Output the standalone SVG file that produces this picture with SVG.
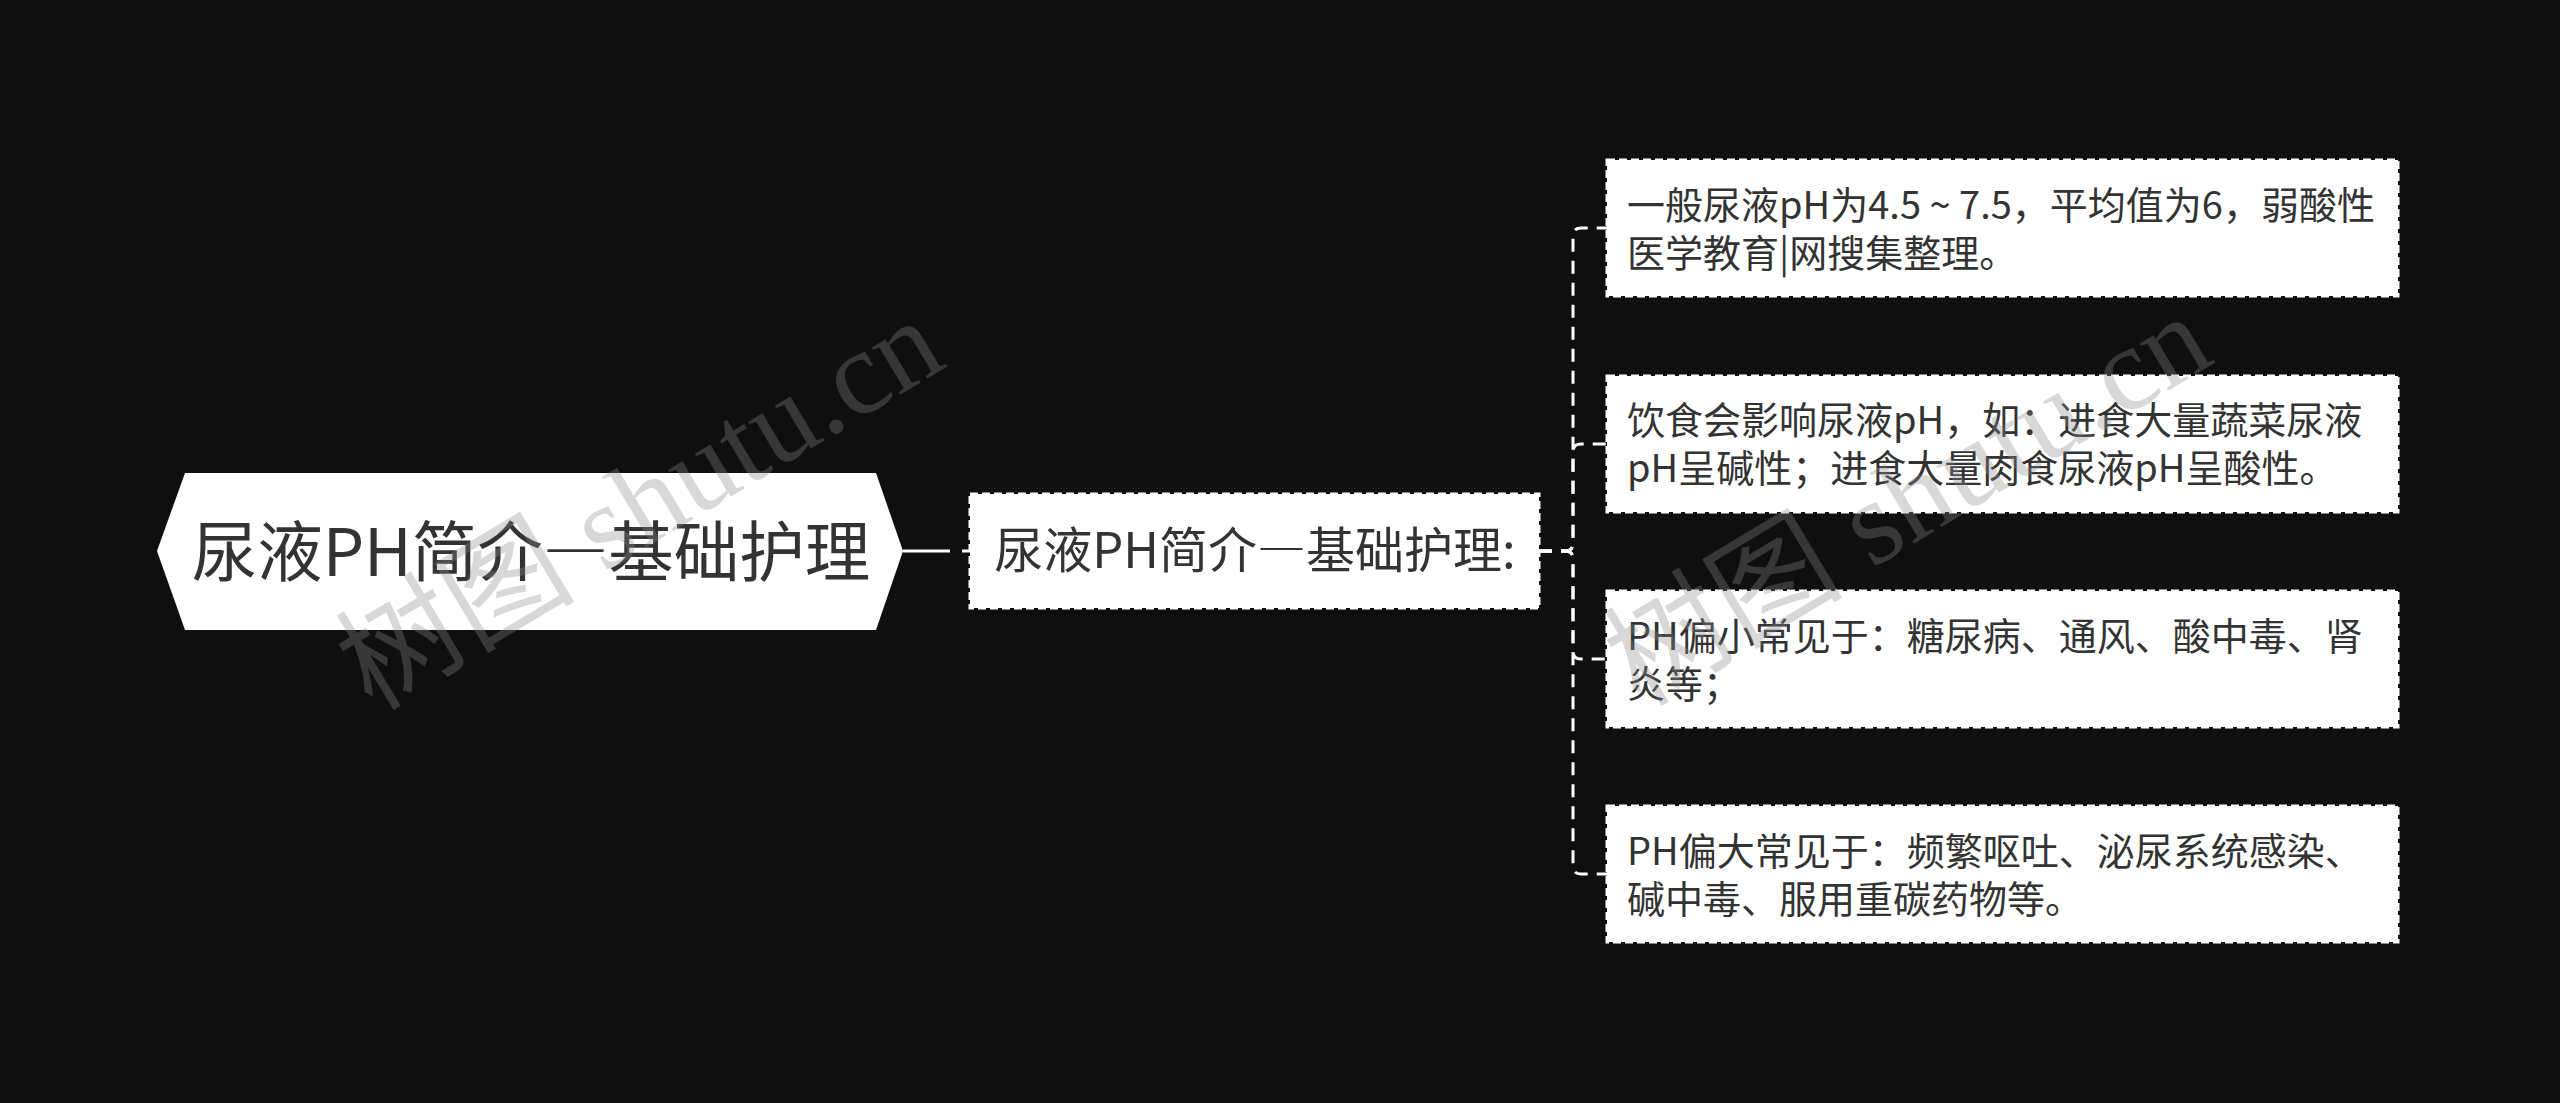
<svg xmlns="http://www.w3.org/2000/svg" width="2560" height="1103" viewBox="0 0 2560 1103">
<style>
  .bg{fill:#0f0f0f}
  .txt{font-family:"Noto Sans CJK SC","Noto Sans",sans-serif;fill:#333333}
  .fw{font-feature-settings:"fwid" 1}
  .box{fill:#ffffff;stroke:#ffffff;stroke-width:3;stroke-dasharray:8 4}
  .conn{fill:none;stroke:#ffffff;stroke-width:3;stroke-dasharray:13 9}
  .wm{font-family:"Liberation Serif","Noto Sans CJK SC",serif;font-size:120px;fill:#8a8a8a;opacity:0.33}
</style>
<rect class="bg" x="0" y="0" width="2560" height="1103"/>

<g id="connectors">
  <path d="M903 551 H950" fill="none" stroke="#ffffff" stroke-width="3"/>
  <path d="M962 551 H970" fill="none" stroke="#ffffff" stroke-width="3"/>
  <path class="conn" d="M1539 551 H1565 Q1573 551 1573 543 V236 Q1573 228 1581 228 H1607"/>
  <path class="conn" d="M1539 551 H1565 Q1573 551 1573 543 V452 Q1573 444 1581 444 H1607"/>
  <path class="conn" d="M1539 551 H1565 Q1573 551 1573 559 V651 Q1573 659 1581 659 H1607"/>
  <path class="conn" d="M1539 551 H1565 Q1573 551 1573 559 V866 Q1573 874 1581 874 H1607"/>
</g>

<g id="root">
  <polygon points="157,551 185,473 876,473 903,551 876,630 185,630" fill="#ffffff"/>
  <text class="txt" x="531" y="576" font-size="65.5" text-anchor="middle">尿液PH简介<tspan class="fw">—</tspan>基础护理</text>
</g>

<g id="node-main">
  <rect class="box" x="970" y="494" width="569" height="114"/>
  <text class="txt" x="1255" y="568" font-size="49" text-anchor="middle">尿液PH简介<tspan class="fw">—</tspan>基础护理:</text>
</g>

<g id="child-1">
  <rect class="box" x="1607" y="160" width="791" height="136"/>
  <text class="txt" x="1627" font-size="38"><tspan x="1627" y="219">一般尿液pH为4.5 ~ 7.5，平均值为6，弱酸性</tspan><tspan x="1627" y="267">医学教育|网搜集整理。</tspan></text>
</g>

<g id="child-2">
  <rect class="box" x="1607" y="376" width="791" height="136"/>
  <text class="txt" x="1627" font-size="38"><tspan x="1627" y="434">饮食会影响尿液pH，如：进食大量蔬菜尿液</tspan><tspan x="1627" y="482">pH呈碱性；进食大量肉食尿液pH呈酸性。</tspan></text>
</g>

<g id="child-3">
  <rect class="box" x="1607" y="591" width="791" height="136"/>
  <text class="txt" x="1627" font-size="38"><tspan x="1627" y="650">PH偏小常见于：糖尿病、通风、酸中毒、肾</tspan><tspan x="1627" y="698">炎等；</tspan></text>
</g>

<g id="child-4">
  <rect class="box" x="1607" y="806" width="791" height="136"/>
  <text class="txt" x="1627" font-size="38"><tspan x="1627" y="865">PH偏大常见于：频繁呕吐、泌尿系统感染、</tspan><tspan x="1627" y="913">碱中毒、服用重碳药物等。</tspan></text>
</g>

<g id="watermark">
  <text class="wm" transform="translate(372 712) rotate(-31)">树图 shutu.cn</text>
  <text class="wm" transform="translate(1640 708) rotate(-31)">树图 shutu.cn</text>
</g>
</svg>
